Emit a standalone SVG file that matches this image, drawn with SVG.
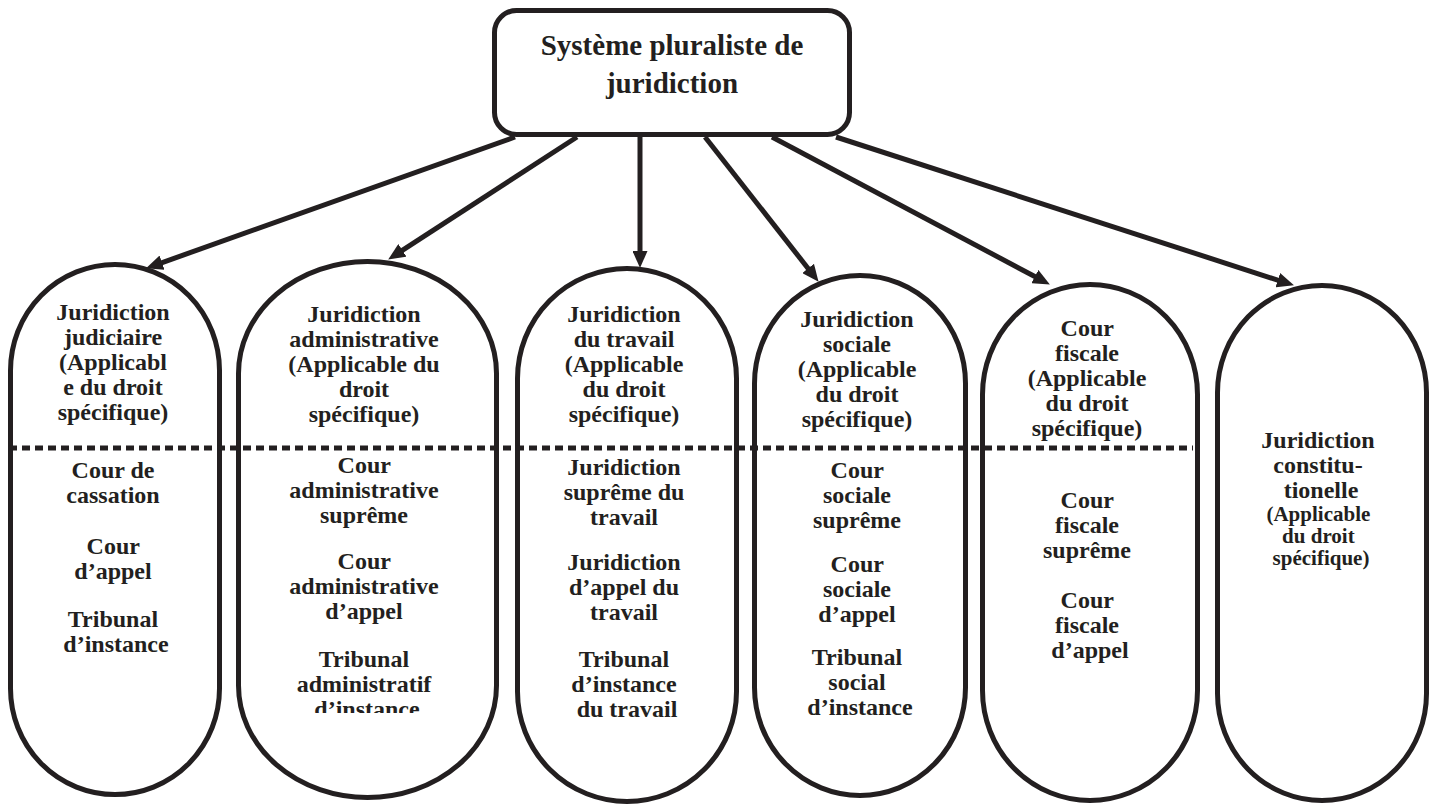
<svg xmlns="http://www.w3.org/2000/svg" width="1436" height="806" viewBox="0 0 1436 806">
<style>
  .shape { fill: #ffffff; stroke: #231f20; stroke-width: 5; }
  .conn { stroke: #231f20; stroke-width: 5; fill: none; marker-end: url(#arrow); }
  .dots { stroke: #231f20; stroke-width: 5; stroke-dasharray: 8 5; fill: none; }
  text { font-family: "Liberation Serif", "Times New Roman", serif; font-weight: bold; fill: #231f20; text-anchor: middle; }
  .t { font-size: 24px; }
  .ts { font-size: 21px; }
  .title { font-size: 29px; }
</style>
<defs>
  <marker id="arrow" viewBox="0 0 17 15" refX="8" refY="7.5" markerWidth="17" markerHeight="15" markerUnits="userSpaceOnUse" orient="auto">
    <path d="M0,0 L17,7.5 L0,15 z" fill="#231f20"/>
  </marker>
  <clipPath id="clip2">
    <rect x="230" y="250" width="280" height="463"/>
  </clipPath>
</defs>
<rect width="1436" height="806" fill="#ffffff"/>

<g id="root">
  <rect class="shape" x="494.5" y="10.5" width="355" height="124" rx="22" ry="22"/>
  <text class="title"><tspan x="672" y="55">Système pluraliste de</tspan><tspan x="672" y="93">juridiction</tspan></text>
</g>

<g id="connectors">
  <line class="conn" x1="515" y1="137" x2="154.5" y2="265.3"/>
  <line class="conn" x1="577" y1="137" x2="395.7" y2="254.7"/>
  <line class="conn" x1="640" y1="137" x2="640" y2="259"/>
  <line class="conn" x1="705" y1="137" x2="813" y2="274.7"/>
  <line class="conn" x1="772" y1="137" x2="1041.9" y2="280.3"/>
  <line class="conn" x1="836" y1="137" x2="1285.4" y2="282.6"/>
</g>

<g id="node-judiciaire">
  <rect class="shape" x="10.5" y="264.5" width="209" height="530" rx="104.5" ry="106"/>
  <text class="t">
    <tspan x="116" y="320">Juridiction</tspan>
    <tspan x="116" y="345">judiciaire</tspan>
    <tspan x="116" y="370">(Applicabl</tspan>
    <tspan x="116" y="395">e du droit</tspan>
    <tspan x="116" y="420">spécifique)</tspan>
    <tspan x="116" y="478">Cour de</tspan>
    <tspan x="116" y="503">cassation</tspan>
    <tspan x="116" y="554">Cour</tspan>
    <tspan x="116" y="579">d’appel</tspan>
    <tspan x="116" y="627">Tribunal</tspan>
    <tspan x="116" y="652">d’instance</tspan>
  </text>
</g>

<g id="node-administrative">
  <rect class="shape" x="238.5" y="261.5" width="258" height="536" rx="129" ry="112"/>
  <text class="t" clip-path="url(#clip2)">
    <tspan x="367" y="322">Juridiction</tspan>
    <tspan x="367" y="347">administrative</tspan>
    <tspan x="367" y="372">(Applicable du</tspan>
    <tspan x="367" y="397">droit</tspan>
    <tspan x="367" y="422">spécifique)</tspan>
    <tspan x="367" y="473">Cour</tspan>
    <tspan x="367" y="498">administrative</tspan>
    <tspan x="367" y="523">suprême</tspan>
    <tspan x="367" y="569">Cour</tspan>
    <tspan x="367" y="594">administrative</tspan>
    <tspan x="367" y="619">d’appel</tspan>
    <tspan x="367" y="667">Tribunal</tspan>
    <tspan x="367" y="692">administratif</tspan>
    <tspan x="367" y="717">d’instance</tspan>
  </text>
</g>

<g id="node-travail">
  <rect class="shape" x="517.5" y="268.5" width="219" height="533" rx="109.5" ry="110"/>
  <text class="t">
    <tspan x="627" y="322">Juridiction</tspan>
    <tspan x="627" y="347">du travail</tspan>
    <tspan x="627" y="372">(Applicable</tspan>
    <tspan x="627" y="397">du droit</tspan>
    <tspan x="627" y="422">spécifique)</tspan>
    <tspan x="627" y="475">Juridiction</tspan>
    <tspan x="627" y="500">suprême du</tspan>
    <tspan x="627" y="525">travail</tspan>
    <tspan x="627" y="570">Juridiction</tspan>
    <tspan x="627" y="595">d’appel du</tspan>
    <tspan x="627" y="620">travail</tspan>
    <tspan x="627" y="667">Tribunal</tspan>
    <tspan x="627" y="692">d’instance</tspan>
    <tspan x="627" y="717">du travail</tspan>
  </text>
</g>

<g id="node-sociale">
  <rect class="shape" x="754.5" y="275.5" width="211" height="520" rx="105.5" ry="108"/>
  <text class="t">
    <tspan x="860" y="327">Juridiction</tspan>
    <tspan x="860" y="352">sociale</tspan>
    <tspan x="860" y="377">(Applicable</tspan>
    <tspan x="860" y="402">du droit</tspan>
    <tspan x="860" y="427">spécifique)</tspan>
    <tspan x="860" y="478">Cour</tspan>
    <tspan x="860" y="503">sociale</tspan>
    <tspan x="860" y="528">suprême</tspan>
    <tspan x="860" y="572">Cour</tspan>
    <tspan x="860" y="597">sociale</tspan>
    <tspan x="860" y="622">d’appel</tspan>
    <tspan x="860" y="665">Tribunal</tspan>
    <tspan x="860" y="690">social</tspan>
    <tspan x="860" y="715">d’instance</tspan>
  </text>
</g>

<g id="node-fiscale">
  <rect class="shape" x="982.5" y="284.5" width="215" height="516" rx="107.5" ry="110"/>
  <text class="t">
    <tspan x="1090" y="336">Cour</tspan>
    <tspan x="1090" y="361">fiscale</tspan>
    <tspan x="1090" y="386">(Applicable</tspan>
    <tspan x="1090" y="411">du droit</tspan>
    <tspan x="1090" y="436">spécifique)</tspan>
    <tspan x="1090" y="508">Cour</tspan>
    <tspan x="1090" y="533">fiscale</tspan>
    <tspan x="1090" y="558">suprême</tspan>
    <tspan x="1090" y="608">Cour</tspan>
    <tspan x="1090" y="633">fiscale</tspan>
    <tspan x="1090" y="658">d’appel</tspan>
  </text>
</g>

<g id="node-constitutionnelle">
  <rect class="shape" x="1217.5" y="285.5" width="209" height="515" rx="104.5" ry="107"/>
  <text class="t">
    <tspan x="1321" y="448">Juridiction</tspan>
    <tspan x="1321" y="473">constitu-</tspan>
    <tspan x="1321" y="498">tionelle</tspan>
  </text>
  <text class="ts">
    <tspan x="1321" y="521">(Applicable</tspan>
    <tspan x="1321" y="543">du droit</tspan>
    <tspan x="1321" y="565">spécifique)</tspan>
  </text>
</g>

<g id="separator">
  <line class="dots" x1="9" y1="448" x2="1193" y2="448"/>
</g>
</svg>
